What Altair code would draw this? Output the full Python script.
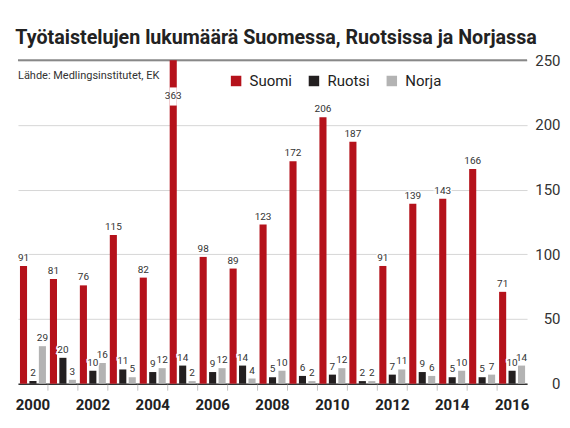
import altair as alt
import pandas as pd

years = list(range(2000, 2017))
suomi = [91, 81, 76, 115, 82, 363, 98, 89, 123, 172, 206, 187, 91, 139, 143, 166, 71]
ruotsi = [2, 20, 10, 11, 9, 14, 9, 14, 5, 6, 7, 2, 7, 9, 5, 5, 10]
norja = [29, 3, 16, 5, 12, 2, 12, 4, 10, 2, 12, 2, 11, 6, 10, 7, 14]
series = ["Suomi", "Ruotsi", "Norja"]
colors = ["#b5121b", "#231f20", "#b3b3b3"]
y_ticks = [0, 50, 100, 150, 200, 250]
title_text = "Työtaistelujen lukumäärä Suomessa, Ruotsissa ja Norjassa"
source_text = ["Lähde: Medlingsinstitutet, EK"]

CAP = 250          # axis maximum; larger bars are cut
BREAK_LO, BREAK_HI, BREAK_LABEL = 215, 229, 222   # white gap in the cut bar
FONT = "Roboto"

rows = []
for name, vals in zip(series, [suomi, ruotsi, norja]):
    for yr, v in zip(years, vals):
        rows.append({"year": yr, "series": name, "value": v})
df = pd.DataFrame(rows)

xscale = alt.Scale(domain=years, paddingInner=0, paddingOuter=0)
xaxis = alt.Axis(
    title=None, ticks=False, domain=True, domainColor="#333333", domainWidth=1.5,
    labelExpr="datum.value % 2 == 0 ? datum.label : ''", labelAngle=0,
    labelFont=FONT, labelFontSize=15, labelFontWeight="bold", labelColor="#222222",
    labelPadding=14, labelOverlap=False, grid=False,
)
x = alt.X("year:O", scale=xscale, axis=xaxis)
xo = alt.XOffset("series:N", scale=alt.Scale(domain=series, paddingInner=0.25, paddingOuter=0.21))
yscale = alt.Scale(domain=[0, CAP], nice=False)
yaxis = alt.Axis(
    title=None, orient="right", values=y_ticks, ticks=False, domain=False,
    grid=True, gridColor="#d6d6d6", gridWidth=1,
    labelFont=FONT, labelFontSize=15, labelColor="#333333",
    labelAlign="right", labelPadding=33, labelBaseline="middle",
)

base = alt.Chart(df).transform_calculate(shown=f"min(datum.value, {CAP})")

bars = base.mark_bar().encode(
    x=x, xOffset=xo,
    y=alt.Y("shown:Q", scale=yscale, axis=yaxis),
    color=alt.Color(
        "series:N", scale=alt.Scale(domain=series, range=colors),
        legend=alt.Legend(
            title=None, orient="none", direction="horizontal", legendX=211, legendY=13,
            symbolType="square", symbolSize=110, symbolStrokeWidth=0,
            labelFont=FONT, labelFontSize=15, labelColor="#222222",
            labelOffset=6, columnPadding=14,
        ),
    ),
)

top_line = alt.Chart(pd.DataFrame({"v": [CAP]})).mark_rule(color="#888888", strokeWidth=2).encode(
    y=alt.Y("v:Q", scale=yscale, axis=yaxis)
)

gap = base.transform_filter(f"datum.value > {CAP}").mark_bar(color="white").encode(
    x=x, xOffset=xo, y=alt.Y(datum=BREAK_LO, scale=yscale, axis=yaxis), y2=alt.Y2(datum=BREAK_HI)
)

normal = base.transform_filter(f"datum.value <= {CAP}")
halo = normal.mark_text(
    baseline="bottom", dy=-3, font=FONT, fontSize=10, stroke="white", strokeWidth=3, color="white"
).encode(x=x, xOffset=xo, y=alt.Y("value:Q", scale=yscale, axis=yaxis), text="value:Q")
labels = normal.mark_text(
    baseline="bottom", dy=-3, font=FONT, fontSize=10, color="#333333"
).encode(x=x, xOffset=xo, y=alt.Y("value:Q", scale=yscale, axis=yaxis), text="value:Q")

cut_label = base.transform_filter(f"datum.value > {CAP}").mark_text(
    baseline="middle", font=FONT, fontSize=10, color="#333333"
).encode(x=x, xOffset=xo, y=alt.Y(datum=BREAK_LABEL, scale=yscale, axis=yaxis), text="value:Q")

ticks = alt.Chart(pd.DataFrame({"year": years[1:]})).mark_rule(color="#c4c4c4", strokeWidth=1).encode(
    x=alt.X("year:O", scale=xscale, axis=xaxis, bandPosition=0),
    y=alt.value(325), y2=alt.value(331),
)

source = alt.Chart(pd.DataFrame({"t": source_text})).mark_text(
    align="left", baseline="alphabetic", font=FONT, fontSize=11, color="#333333"
).encode(x=alt.value(0), y=alt.value(19), text="t:N")

chart = alt.layer(
    top_line, bars, gap, halo, labels, cut_label, ticks, source
).properties(
    width=510, height=324,
    background="white",
    padding={"left": 7, "top": 19, "right": 2, "bottom": 2},
    title=alt.TitleParams(
        title_text, anchor="start", font=FONT, fontSize=19.7, fontWeight="bold",
        color="#222222", offset=6,
    ),
).configure_view(strokeOpacity=0, strokeWidth=0).configure_axisY(
    domain=False, ticks=False
).configure_axisRight(domain=False, ticks=False)

chart.save("out.html", embed_options={"renderer": "svg", "actions": False})
